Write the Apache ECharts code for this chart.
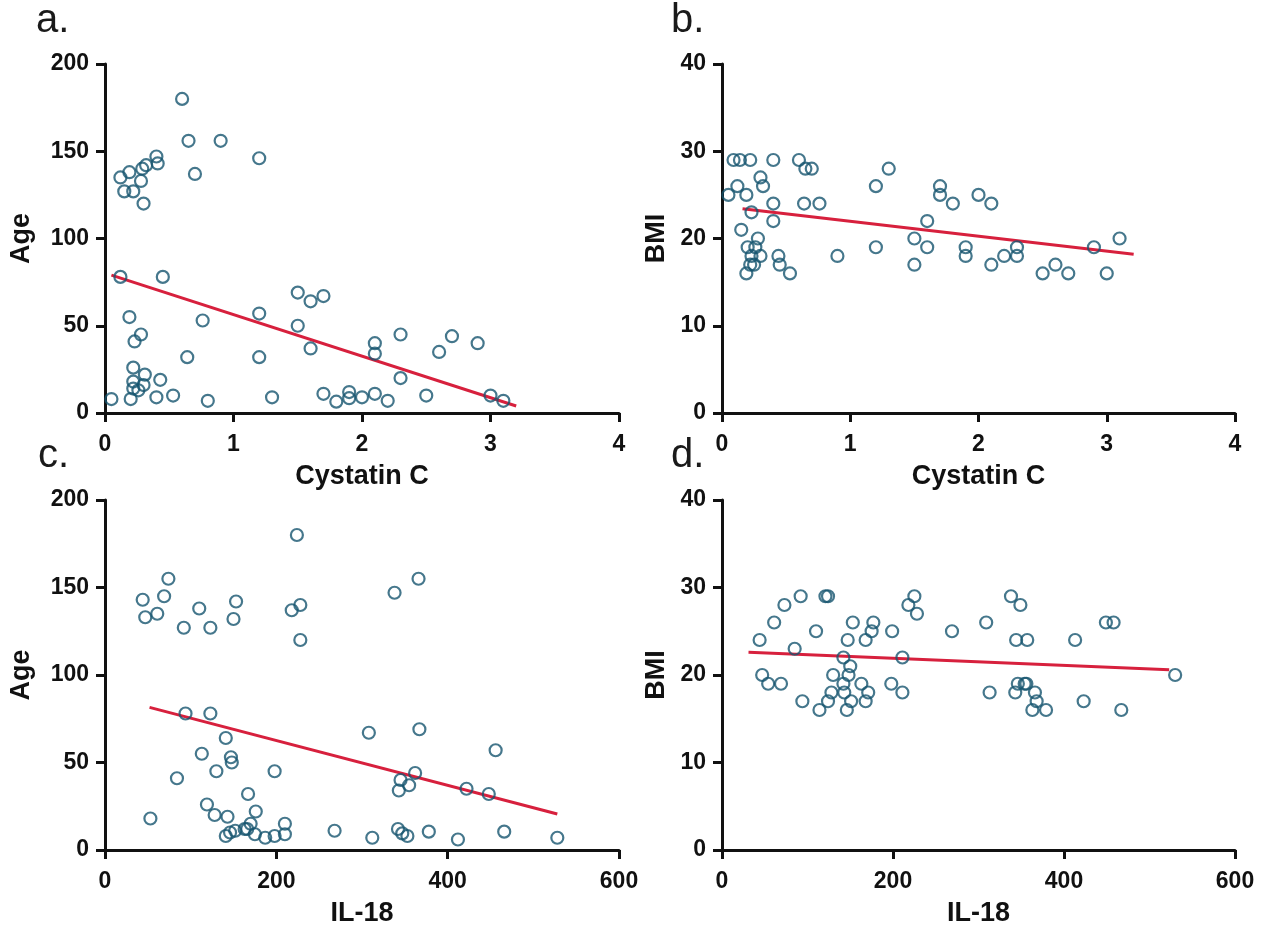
<!DOCTYPE html>
<html>
<head>
<meta charset="utf-8">
<script src="https://cdn.jsdelivr.net/npm/echarts@6/dist/echarts.min.js"></script>
<style>
  html, body { margin: 0; padding: 0; background: #fff; }
  #chart { width: 1267px; height: 930px; }
</style>
</head>
<body>
<div id="chart"></div>
<script>
// Age versus Cystatin C  [cystatinC, age]
const ageVsCystatin = [
  [0.60,180],[0.65,156],[0.90,156],[1.20,146],[0.70,137],[0.40,147],[0.41,143],[0.32,142],
  [0.29,140],[0.19,138],[0.12,135],[0.28,133],[0.15,127],[0.22,127],[0.30,120],[0.12,78],
  [0.45,78],[0.19,55],[0.76,53],[0.28,45],[0.23,41],[1.20,57],[1.50,69],[1.60,64],[1.70,67],
  [1.50,50],[1.60,37],[1.20,32],[0.64,32],[0.22,26],[0.31,22],[0.22,18],[0.43,19],[0.30,16],
  [0.26,13],[0.22,14],[0.05,8],[0.20,8],[0.40,9],[0.53,10],[0.80,7],[1.30,9],[1.70,11],
  [1.80,6.5],[1.90,12],[1.90,8.5],[2.00,9],[2.10,40],[2.10,34],[2.10,11],[2.20,7],[2.30,45],
  [2.30,20],[2.50,10],[2.60,35],[2.70,44],[2.90,40],[3.00,10],[3.10,7]
];
// BMI versus Cystatin C  [cystatinC, bmi]
const bmiVsCystatin = [
  [0.09,29],[0.14,29],[0.22,29],[0.40,29],[0.60,29],[0.65,28],[0.70,28],[1.30,28],[0.30,27],
  [0.32,26],[0.12,26],[0.05,25],[0.19,25],[1.20,26],[1.70,26],[1.70,25],[2.00,25],[0.40,24],
  [0.64,24],[0.76,24],[1.80,24],[0.23,23],[0.40,22],[1.60,22],[0.15,21],[0.28,20],[1.50,20],
  [0.20,19],[0.26,19],[1.20,19],[1.60,19],[1.90,19],[0.23,18],[0.30,18],[0.44,18],[0.90,18],
  [1.90,18],[0.22,17],[0.25,17],[0.45,17],[1.50,17],[0.19,16],[0.53,16],[2.10,24],[2.10,17],
  [2.20,18],[2.30,19],[2.30,18],[2.50,16],[2.60,17],[2.70,16],[2.90,19],[3.00,16],[3.10,20]
];
// Age versus IL-18  [il18, age]
const ageVsIL18 = [
  [224,180],[74,155],[69,145],[44,143],[47,133],[61,135],[110,138],[153,142],[150,132],[92,127],
  [123,127],[218,137],[228,140],[228,120],[94,78],[123,78],[141,64],[113,55],[147,53],[148,50],
  [130,45],[198,45],[84,41],[167,32],[119,26],[176,22],[53,18],[128,20],[143,19],[170,15],
  [210,15],[141,8],[146,10],[152,11],[163,12],[166,12],[175,9],[187,7],[198,8],[210,9],[268,11],
  [308,67],[338,147],[366,155],[367,69],[456,57],[362,44],[345,40],[355,37],[343,34],[422,35],
  [448,32],[342,12],[347,9.5],[353,8],[378,10.5],[312,7],[412,6],[466,10.5],[528,7]
];
// BMI versus IL-18  [il18, bmi]
const bmiVsIL18 = [
  [92,29],[121,29],[124,29],[225,29],[73,28],[218,28],[228,27],[61,26],[153,26],[177,26],
  [110,25],[175,25],[199,25],[269,25],[44,24],[147,24],[168,24],[85,23],[142,22],[211,22],
  [150,21],[47,20],[130,20],[148,20],[54,19],[69,19],[142,19],[163,19],[198,19],[128,18],
  [143,18],[171,18],[211,18],[94,17],[124,17],[151,17],[168,17],[114,16],[146,16],[338,29],
  [349,28],[309,26],[449,26],[458,26],[344,24],[357,24],[413,24],[530,20],[346,19],[354,19],
  [356,19],[313,18],[343,18],[366,18],[368,17],[423,17],[363,16],[379,16],[467,16]
];
// Linear fit segments (endpoints)
const fitAgeCystatin = [[0.05,79],[3.2,4]];
const fitBmiCystatin = [[0.16,23.4],[3.21,18.2]];
const fitAgeIL18 = [[52,81.5],[528,20.6]];
const fitBmiIL18 = [[31,22.6],[523,20.6]];

// Panel letters and axis titles
const panelLetters = ['a.', 'b.', 'c.', 'd.'];
const xTitles = ['Cystatin C', 'Cystatin C', 'IL-18', 'IL-18'];
const yTitles = ['Age', 'BMI', 'Age', 'BMI'];

const FONT = '"Liberation Sans", Arial, sans-serif';
const INK = '#111';
const DOT = '#17556f';
const FIT = '#d7203d';

const grids = [
  { left: 105, top: 64,  width: 514, height: 349 },
  { left: 722, top: 64,  width: 513, height: 349 },
  { left: 105, top: 500, width: 514, height: 350 },
  { left: 722, top: 500, width: 513, height: 350 }
];

const xRanges = [
  { min: 0, max: 4, interval: 1 },
  { min: 0, max: 4, interval: 1 },
  { min: 0, max: 600, interval: 200 },
  { min: 0, max: 600, interval: 200 }
];
const yRanges = [
  { min: 0, max: 200, interval: 50, gap: 70 },
  { min: 0, max: 40, interval: 10, gap: 52 },
  { min: 0, max: 200, interval: 50, gap: 70 },
  { min: 0, max: 40, interval: 10, gap: 52 }
];

function axisCommon(margin) {
  return {
    axisLine: { show: true, onZero: false, lineStyle: { color: INK, width: 3 } },
    axisTick: { show: true, length: 9, lineStyle: { color: INK, width: 3 } },
    splitLine: { show: false },
    axisLabel: { color: INK, fontFamily: FONT, fontWeight: 'bold', fontSize: 23, margin: margin },
    nameLocation: 'middle',
    nameTextStyle: { color: INK, fontFamily: FONT, fontWeight: 'bold', fontSize: 27 }
  };
}

const xAxis = xRanges.map((r, i) => Object.assign(axisCommon(20), {
  type: 'value', gridIndex: i, min: r.min, max: r.max, interval: r.interval,
  name: xTitles[i], nameGap: 50
}));

const yAxis = yRanges.map((r, i) => Object.assign(axisCommon(16), {
  type: 'value', gridIndex: i, min: r.min, max: r.max, interval: r.interval,
  name: yTitles[i], nameGap: r.gap
}));

const scatterSets = [ageVsCystatin, bmiVsCystatin, ageVsIL18, bmiVsIL18];
const fitSets = [fitAgeCystatin, fitBmiCystatin, fitAgeIL18, fitBmiIL18];

const series = [];
scatterSets.forEach((d, i) => {
  series.push({
    type: 'scatter', xAxisIndex: i, yAxisIndex: i, data: d,
    symbol: 'circle', symbolSize: 12,
    itemStyle: { color: 'rgba(255,255,255,0)', borderColor: DOT, borderWidth: 2.2 },
    z: 3
  });
  series.push({
    type: 'line', xAxisIndex: i, yAxisIndex: i, data: fitSets[i],
    symbol: 'none', lineStyle: { color: FIT, width: 3 }, z: 2
  });
});

const letterPos = [[36, 21], [671, 21], [38, 456], [671, 456]];
const graphic = panelLetters.map((t, i) => ({
  type: 'text', left: letterPos[i][0], top: letterPos[i][1] - 20,
  style: { text: t, fontFamily: FONT, fontSize: 40, fill: '#1a1a1a' }
}));

const chart = echarts.init(document.getElementById('chart'), null, { renderer: 'canvas' });
chart.setOption({
  backgroundColor: '#fff',
  animation: false,
  grid: grids,
  xAxis: xAxis,
  yAxis: yAxis,
  series: series,
  graphic: graphic
});
</script>
</body>
</html>
